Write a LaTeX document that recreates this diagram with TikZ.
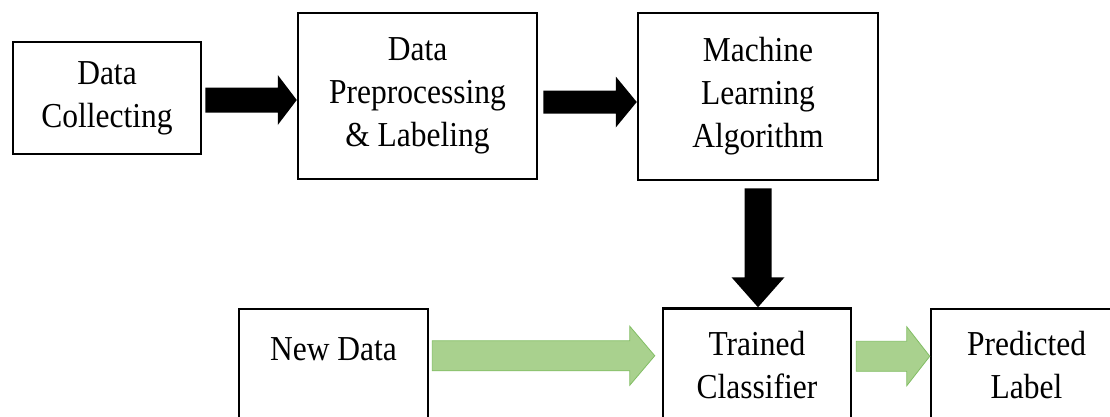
\documentclass[tikz,border=0pt]{standalone}
\usepackage{fontspec}
\setmainfont{Liberation Serif}[FakeStretch=0.9]
\usetikzlibrary{calc}
\definecolor{arrowgreen}{RGB}{169,209,142}
\definecolor{arrowgreenedge}{RGB}{130,190,100}
\tikzset{
  box/.style={draw=black, line width=2.5pt, fill=white, inner sep=0pt, align=center,
              font=\fontsize{35}{43}\selectfont},
  lbl/.style={inner sep=0pt, align=center, anchor=north, font=\fontsize{35}{43}\selectfont},
  blackarrow/.style={fill=black},
  greenarrow/.style={fill=arrowgreen, draw=arrowgreenedge, line width=0.8pt},
}
% horizontal block arrow: start, tip, half shaft, half head, head length, style
\newcommand\harr[6]{\path[#6] let \p1=(#1), \p2=(#2) in
  (\x1,\y1+#3) -- (\x2-#5,\y1+#3) -- (\x2-#5,\y1+#4) -- (\x2,\y1) --
  (\x2-#5,\y1-#4) -- (\x2-#5,\y1-#3) -- (\x1,\y1-#3) -- cycle;}
% vertical (downward) block arrow
\newcommand\varr[6]{\path[#6] let \p1=(#1), \p2=(#2) in
  (\x1-#3,\y1) -- (\x1-#3,\y2+#5) -- (\x1-#4,\y2+#5) -- (\x1,\y2) --
  (\x1+#4,\y2+#5) -- (\x1+#3,\y2+#5) -- (\x1+#3,\y1) -- cycle;}
\begin{document}
\begin{tikzpicture}[x=1pt,y=-1pt]
\clip (0,0) rectangle (1110,416);
\fill[white] (0,0) rectangle (1110,416);
% top row
\node[box, minimum width=188pt, minimum height=112pt] (dc) at (107,98) {Data\\Collecting};
\node[box, minimum width=239pt, minimum height=166pt] (dp) at (417.5,96) {Data\\Preprocessing\\\& Labeling};
\node[box, minimum width=240pt, minimum height=167pt] (ml) at (758,96.5) {Machine\\Learning\\Algorithm};
% bottom row
\node[box, minimum width=189pt, minimum height=131pt] (nd) at (333.5,374.5) {};
\node[box, minimum width=188pt, minimum height=131pt] (tc) at (757,374) {};
\node[box, minimum width=193pt, minimum height=131pt] (pl) at (1027.5,374.5) {};
\node[lbl] (ndt) at (333.5,337) {New Data};
\node[lbl] (tct) at (757,331) {Trained\\Classifier};
\node[lbl] (plt) at (1026.5,331) {Predicted\\Label};
% black arrows
\harr{$(dc.east)+(3,2)$}{dp.west}{12.5pt}{25pt}{19pt}{blackarrow}
\harr{$(dp.east)+(5,6)$}{ml.west}{11.5pt}{25.5pt}{21pt}{blackarrow}
\varr{$(ml.south)+(0,7)$}{tc.north}{13.5pt}{26.5pt}{30pt}{blackarrow}
% green arrows
\harr{$(nd.north east)+(3,48)$}{$(tc.west)+(-7,0)$}{15pt}{29.5pt}{25pt}{greenarrow}
\harr{$(tc.north east)+(4,49)$}{pl.west}{15pt}{29.5pt}{23pt}{greenarrow}
\end{tikzpicture}
\end{document}
